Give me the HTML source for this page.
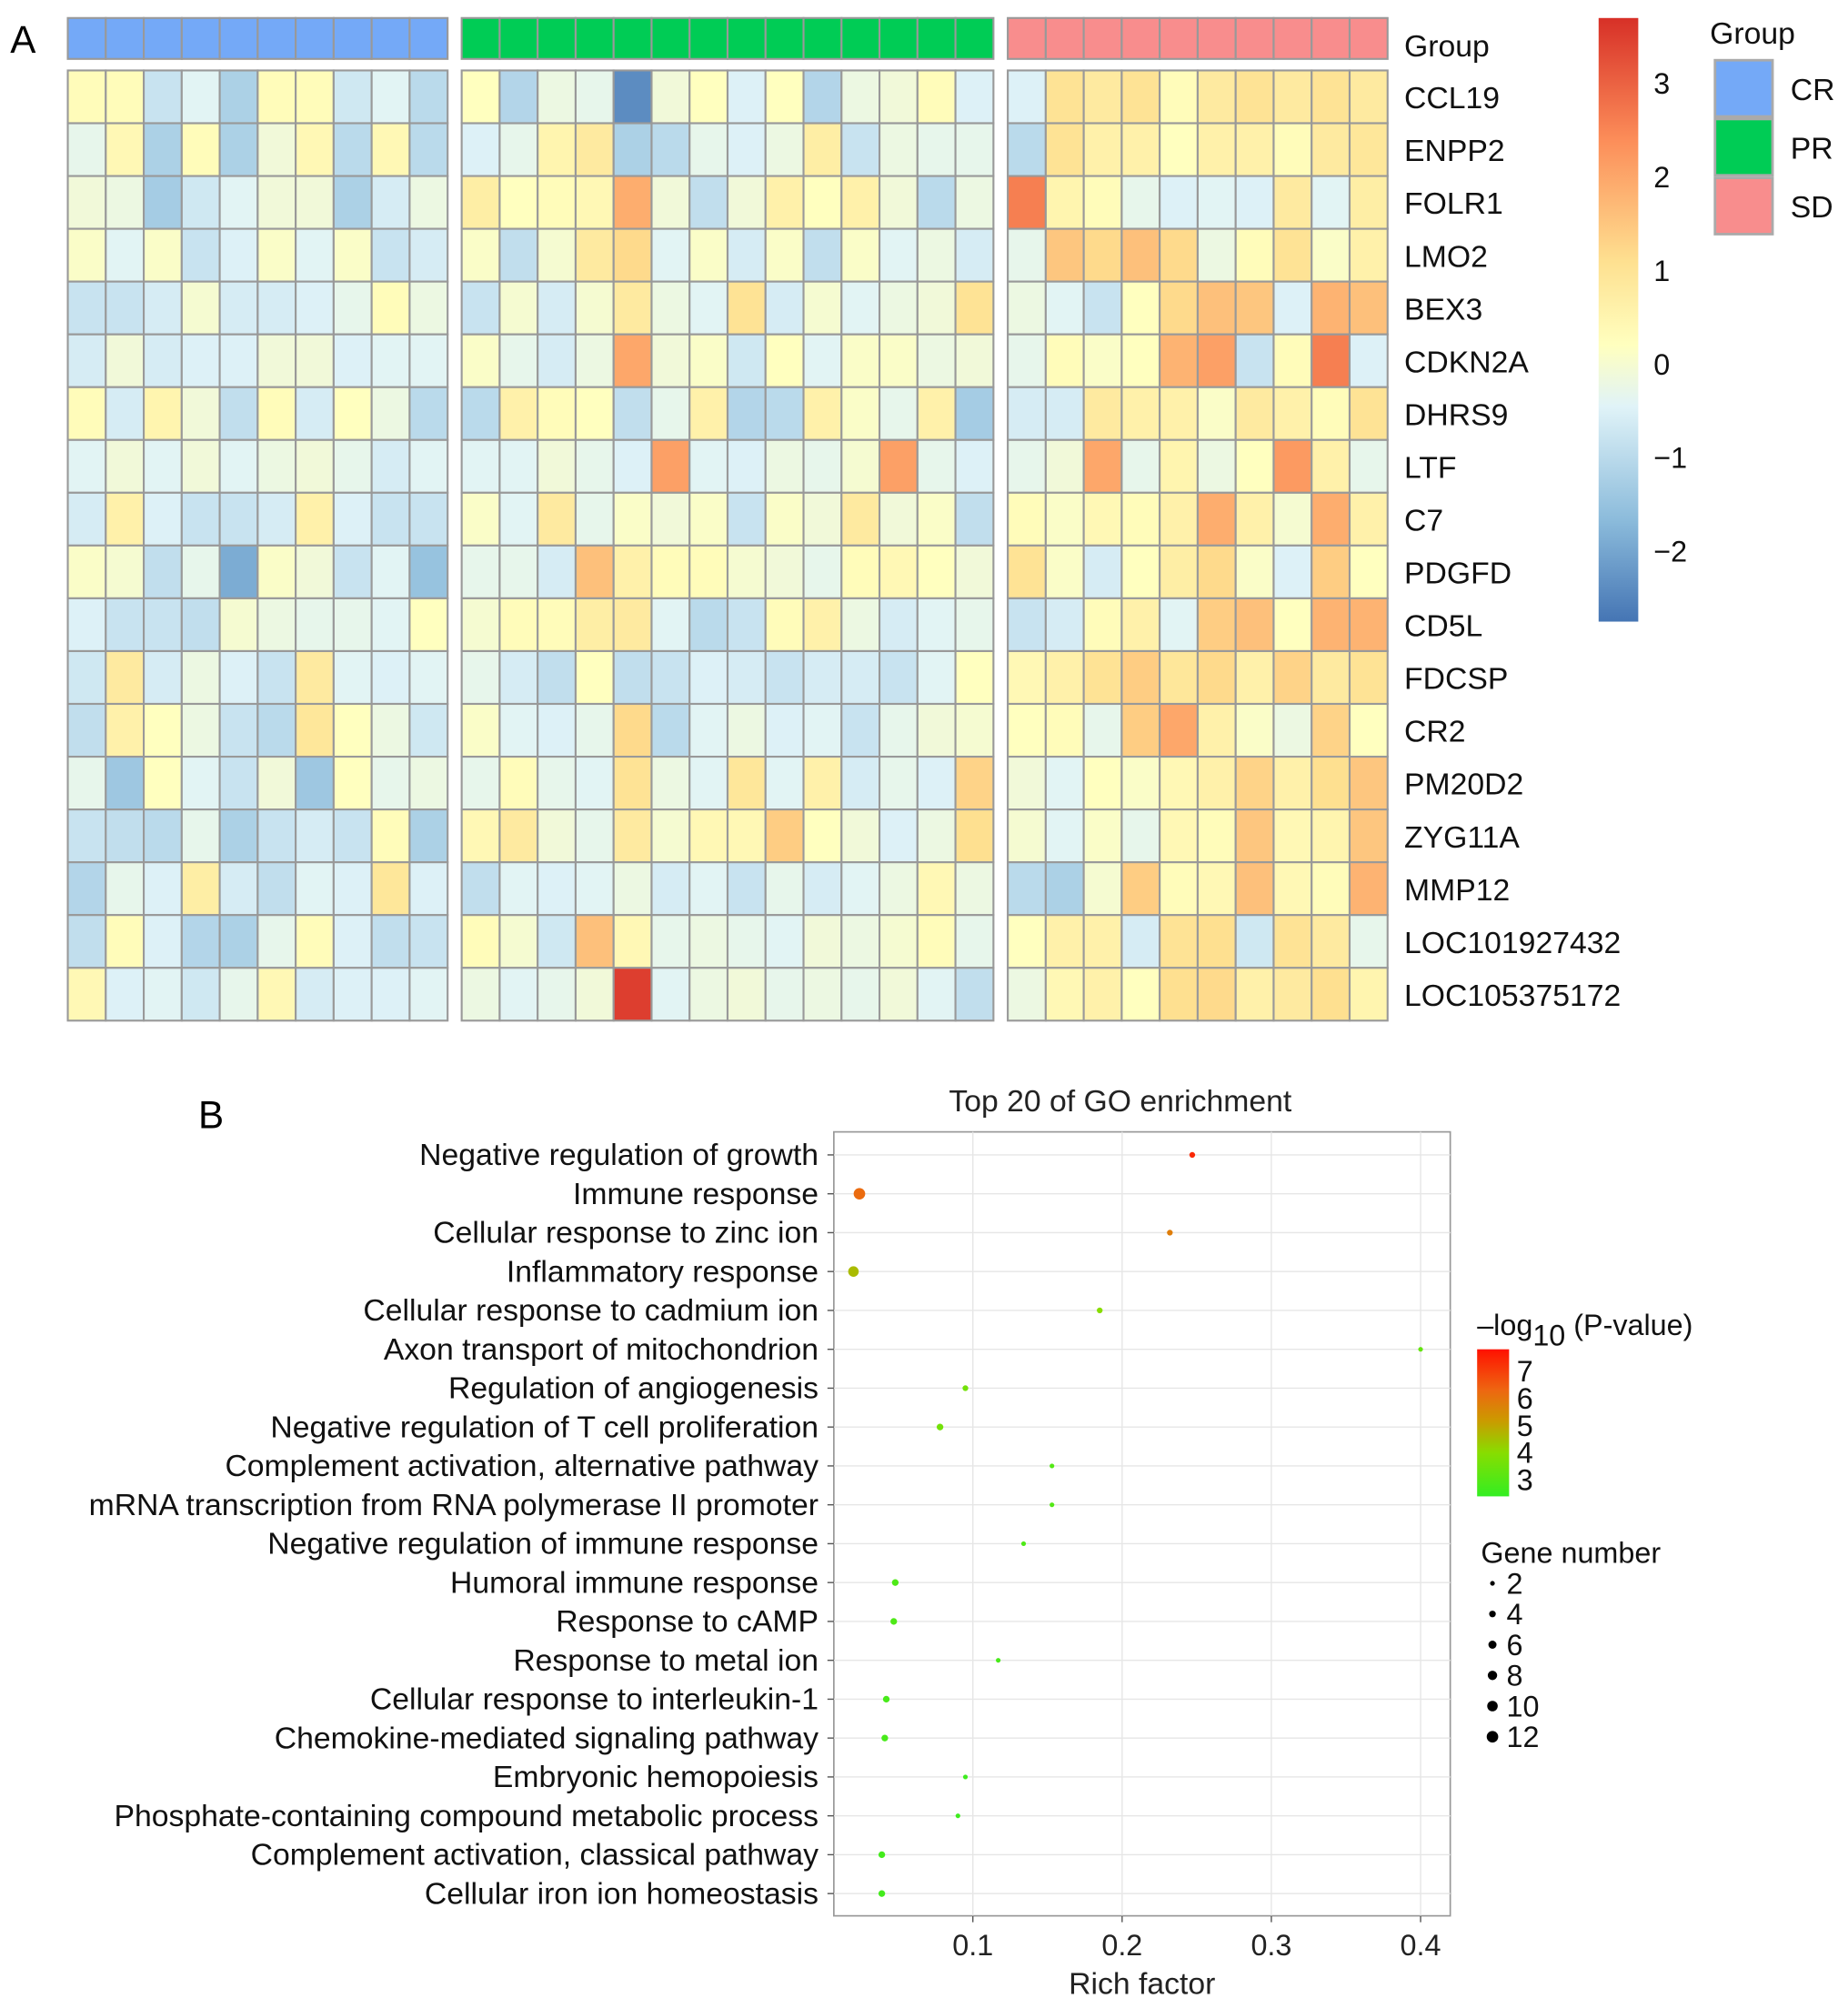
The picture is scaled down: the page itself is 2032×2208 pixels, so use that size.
<!DOCTYPE html>
<html><head><meta charset="utf-8"><style>
html,body{margin:0;padding:0;background:#fff}
svg{display:block;font-family:"Liberation Sans",Arial,sans-serif}
</style></head><body>
<svg id="fig" width="2032" height="2208" viewBox="0 0 1445 1570" xmlns="http://www.w3.org/2000/svg">
<rect width="1445" height="1570" fill="#fff"/>
<text x="8" y="41" font-size="30">A</text>
<g id="heat"></g>
<g id="hlegend"></g>
<text x="155" y="882" font-size="30">B</text>
<text x="876" y="869" font-size="24" text-anchor="middle" fill="#222">Top 20 of GO enrichment</text>
<g id="dot"></g>
<g id="dlegend"></g>
</svg>
<script>
const genes=["CCL19","ENPP2","FOLR1","LMO2","BEX3","CDKN2A","DHRS9","LTF","C7","PDGFD","CD5L","FDCSP","CR2","PM20D2","ZYG11A","MMP12","LOC101927432","LOC105375172"];
const groups=["CR","PR","SD"];
const crVals=[
[0.3,0.3,-0.8,-0.4,-1.2,0.3,0.3,-0.7,-0.4,-1.0],
[-0.3,0.4,-1.2,0.3,-1.2,-0.1,0.4,-1.0,0.4,-1.0],
[-0.1,-0.2,-1.3,-0.7,-0.4,-0.1,-0.1,-1.2,-0.6,-0.2],
[0.1,-0.4,0.1,-0.8,-0.5,0.1,-0.4,0.1,-0.8,-0.6],
[-0.8,-0.8,-0.6,0.0,-0.6,-0.6,-0.5,-0.3,0.3,-0.2],
[-0.6,-0.1,-0.6,-0.5,-0.5,-0.1,-0.1,-0.5,-0.4,-0.4],
[0.3,-0.6,0.5,-0.1,-0.9,0.3,-0.6,0.2,-0.2,-1.0],
[-0.4,-0.1,-0.4,-0.1,-0.4,-0.2,-0.1,-0.3,-0.6,-0.4],
[-0.6,0.6,-0.5,-0.8,-0.8,-0.6,0.6,-0.5,-0.8,-0.8],
[0.1,0.0,-0.9,-0.3,-1.9,0.1,-0.1,-0.8,-0.4,-1.5],
[-0.5,-0.8,-0.8,-0.9,0.0,-0.2,-0.3,-0.3,-0.4,0.2],
[-0.7,0.8,-0.6,-0.2,-0.5,-0.8,0.8,-0.4,-0.5,-0.4],
[-0.9,0.6,0.2,-0.2,-0.8,-1.0,0.9,0.2,-0.2,-0.7],
[-0.3,-1.4,0.2,-0.4,-0.8,-0.1,-1.4,0.2,-0.3,-0.2],
[-0.8,-0.9,-1.0,-0.3,-1.2,-0.8,-0.6,-0.8,0.3,-1.2],
[-1.1,-0.3,-0.5,0.7,-0.6,-0.9,-0.4,-0.5,0.9,-0.5],
[-0.9,0.3,-0.5,-1.1,-1.2,-0.3,0.3,-0.5,-0.9,-0.8],
[0.4,-0.5,-0.4,-0.7,-0.3,0.4,-0.6,-0.5,-0.5,-0.4]];
const prVals=[
[0.2,-1.1,-0.2,-0.3,-2.4,-0.1,0.2,-0.5,0.2,-1.1,-0.2,-0.1,0.3,-0.5],
[-0.5,-0.3,0.5,0.8,-1.2,-1.0,-0.3,-0.5,-0.2,0.7,-0.8,-0.2,-0.3,-0.3],
[0.7,0.2,0.3,0.4,1.9,-0.1,-0.9,-0.1,0.6,0.2,0.6,-0.1,-1.0,-0.2],
[0.1,-0.9,0.0,0.8,1.2,-0.4,0.1,-0.6,0.1,-0.9,0.1,-0.4,-0.2,-0.6],
[-0.8,0.0,-0.6,0.0,0.8,-0.2,-0.4,1.0,-0.6,0.0,-0.4,-0.2,-0.1,1.0],
[0.1,-0.3,-0.6,-0.2,2.0,-0.1,0.1,-0.7,0.2,-0.4,0.1,0.1,-0.2,-0.1],
[-1.0,0.6,0.3,0.2,-0.9,-0.3,0.6,-1.1,-1.0,0.6,0.1,-0.3,0.6,-1.3],
[-0.4,-0.4,-0.1,-0.3,-0.5,2.1,-0.4,-0.5,-0.2,-0.3,0.0,2.1,-0.3,-0.5],
[0.1,-0.4,0.8,-0.3,0.1,-0.1,0.1,-0.8,0.1,-0.1,0.8,-0.1,0.1,-0.9],
[-0.3,-0.3,-0.6,1.6,0.6,0.3,0.3,0.0,-0.1,-0.3,0.3,0.4,0.2,-0.1],
[0.0,0.3,0.3,0.7,0.8,-0.4,-1.0,-0.8,0.3,0.6,-0.2,-0.6,-0.4,-0.3],
[-0.3,-0.6,-0.9,0.2,-0.9,-0.8,-0.5,-0.6,-0.8,-0.6,-0.6,-0.8,-0.4,0.2],
[0.1,-0.4,-0.5,-0.3,1.2,-1.0,-0.4,-0.2,-0.5,-0.4,-0.8,-0.3,-0.1,0.0],
[-0.3,0.3,-0.3,-0.4,1.0,-0.2,-0.4,0.9,-0.4,0.6,-0.6,-0.3,-0.5,1.3],
[0.4,0.8,-0.1,-0.3,0.8,0.0,0.4,0.4,1.4,0.2,-0.1,-0.5,-0.2,1.1],
[-0.9,-0.4,-0.5,-0.4,-0.2,-0.6,-0.4,-0.8,-0.3,-0.6,-0.4,-0.2,0.4,-0.2],
[0.3,0.0,-0.7,1.6,0.4,-0.3,-0.2,-0.3,-0.4,-0.1,-0.2,0.0,0.3,-0.3],
[-0.2,-0.4,-0.3,-0.1,3.5,-0.4,-0.2,-0.1,-0.3,-0.2,-0.3,-0.1,-0.4,-0.9]];
const sdVals=[
[-0.5,1.0,0.8,1.0,0.3,0.8,1.0,0.8,1.0,0.8],
[-1.0,1.0,0.6,0.6,0.2,0.6,0.6,0.3,0.8,0.9],
[2.6,0.5,0.3,-0.3,-0.5,-0.4,-0.5,0.8,-0.4,0.7],
[-0.3,1.5,1.2,1.6,1.2,-0.2,0.3,1.0,0.1,0.6],
[-0.2,-0.4,-0.8,0.2,1.2,1.6,1.5,-0.5,1.8,1.6],
[-0.3,0.3,0.1,0.2,1.8,2.1,-0.8,0.3,2.6,-0.5],
[-0.6,-0.6,0.8,0.6,0.6,0.1,0.8,0.6,0.3,1.0],
[-0.3,-0.1,2.0,-0.3,0.5,-0.2,0.2,2.2,0.6,-0.3],
[0.3,0.1,0.4,0.3,0.6,1.9,0.6,0.0,1.9,0.6],
[1.0,0.1,-0.6,0.2,0.7,1.2,0.1,-0.5,1.4,0.2],
[-0.8,-0.6,0.3,0.6,-0.4,1.4,1.6,0.2,1.8,1.8],
[0.4,0.6,1.0,1.4,0.9,1.2,0.6,1.3,0.8,1.0],
[0.2,0.3,-0.3,1.4,2.0,0.6,0.1,-0.2,1.3,0.2],
[-0.1,-0.4,0.2,0.1,0.4,0.6,1.3,0.6,1.1,1.5],
[0.0,-0.4,0.1,-0.3,0.4,0.3,1.5,0.4,0.5,1.5],
[-1.0,-1.2,0.0,1.4,0.3,0.4,1.6,0.4,0.3,1.8],
[0.2,0.6,0.6,-0.6,1.0,1.1,-0.7,1.0,0.8,-0.3],
[-0.2,0.4,0.6,0.2,1.1,1.2,0.6,0.8,1.1,0.5]];
const scaleTicks=[3,2,1,0,-1,-2];

const goTerms=["Negative regulation of growth","Immune response","Cellular response to zinc ion","Inflammatory response","Cellular response to cadmium ion","Axon transport of mitochondrion","Regulation of angiogenesis","Negative regulation of T cell proliferation","Complement activation, alternative pathway","mRNA transcription from RNA polymerase II promoter","Negative regulation of immune response","Humoral immune response","Response to cAMP","Response to metal ion","Cellular response to interleukin-1","Chemokine-mediated signaling pathway","Embryonic hemopoiesis","Phosphate-containing compound metabolic process","Complement activation, classical pathway","Cellular iron ion homeostasis"];
const richFactor=[0.247,0.024,0.232,0.020,0.185,0.400,0.095,0.078,0.153,0.153,0.134,0.048,0.047,0.117,0.042,0.041,0.095,0.090,0.039,0.039];
const logP=[7.4,6.2,5.8,4.6,4.0,3.3,3.6,3.6,3.0,3.0,2.9,2.9,2.9,2.8,2.8,2.8,2.6,2.6,2.7,2.7];
const geneCount=[3,12,3,10,3,2,3,4,2,2,2,4,4,2,4,4,2,2,4,4];
const xTicks=[0.1,0.2,0.3,0.4];
const pTicks=[7,6,5,4,3];
const sizeTicks=[2,4,6,8,10,12];

const NS="http://www.w3.org/2000/svg";
function mk(tag,attrs,parent,txt){const e=document.createElementNS(NS,tag);for(const k in attrs)e.setAttribute(k,attrs[k]);if(txt!==undefined)e.textContent=txt;parent.appendChild(e);return e;}
function hex(c){return [parseInt(c.slice(1,3),16),parseInt(c.slice(3,5),16),parseInt(c.slice(5,7),16)];}
function ramp(stops,v){if(v<=stops[0][0])return stops[0][1];for(let i=1;i<stops.length;i++){if(v<=stops[i][0]){const t=(v-stops[i-1][0])/(stops[i][0]-stops[i-1][0]);const a=hex(stops[i-1][1]),b=hex(stops[i][1]);return "rgb("+a.map((x,j)=>Math.round(x+(b[j]-x)*t)).join(",")+")";}}return stops[stops.length-1][1];}
const hmStops=[[-2.75,"#4575b4"],[-1.67,"#8bbbdb"],[-0.45,"#e0f3f8"],[0.2,"#ffffbf"],[1.1,"#fee090"],[2.4,"#fc8d59"],[3.7,"#d73027"]];
const hmColor=v=>ramp(hmStops,v);

// heatmap
const heatG=document.getElementById('heat');
const hmTop=55,rh=(798-55)/18,cw=29.7;
const blocks=[{x:53,vals:crVals,col:"#74a9f7"},{x:361,vals:prVals,col:"#00cc55"},{x:788,vals:sdVals,col:"#f88d8d"}];
blocks.forEach((b,bi)=>{
  const n=b.vals[0].length;
  for(let c=0;c<n;c++){
    const a=mk('rect',{x:b.x+c*cw,y:14,width:cw,height:32,fill:b.col,stroke:"#999","stroke-width":1.5},heatG);
    
    
  }
  b.vals.forEach((row,r)=>{
    row.forEach((v,c)=>{
      const e=mk('rect',{x:b.x+c*cw,y:hmTop+r*rh,width:cw,height:rh,fill:hmColor(v),stroke:"#999","stroke-width":1.5},heatG);
      
      
    });
  });
});
const gl=mk('text',{x:1098,y:44,"font-size":24,fill:"#111"},heatG,"Group");


genes.forEach((g,r)=>{
  const t=mk('text',{x:1098,y:hmTop+r*rh+rh/2+9,"font-size":24,fill:"#111"},heatG,g);
  
  
});

// heatmap legend
const hl=document.getElementById('hlegend');
const cbTop=14,cbBot=486,vTop=3.7,vBot=-2.75;
const cbY=v=>cbTop+(vTop-v)/(vTop-vBot)*(cbBot-cbTop);
const defsEl=mk('defs',{},hl);
const lg=mk('linearGradient',{id:"hmg",x1:0,y1:0,x2:0,y2:1},defsEl);
hmStops.slice().reverse().forEach(s=>mk('stop',{offset:(vTop-s[0])/(vTop-vBot),"stop-color":s[1]},lg));
const cbar=mk('rect',{x:1250,y:cbTop,width:31,height:cbBot-cbTop,fill:"url(#hmg)"},hl);


scaleTicks.forEach(v=>{
  const t=mk('text',{x:1293,y:cbY(v)+8,"font-size":23,fill:"#111"},hl,v<0?"\u2212"+(-v):String(v));
  
  
});
const gtitle=mk('text',{x:1337,y:34,"font-size":24,fill:"#111"},hl,"Group");


[["CR","#74a9f7"],["PR","#00cc55"],["SD","#f88d8d"]].forEach((g,i)=>{
  const r=mk('rect',{x:1341,y:47+i*46,width:45,height:44,fill:g[1],stroke:"#aaa","stroke-width":2},hl);
  
  
  const t=mk('text',{x:1400,y:78+i*46,"font-size":24,fill:"#111"},hl,g[0]);
  
  
});

// dot plot
const dotG=document.getElementById('dot');
const px0=652,px1=1134,py0=885,py1=1498;
const xS=v=>644+v*1167;
const yS=i=>903+i*30.4;
const pStops=[[2.4,"#33ee22"],[4.0,"#88dd00"],[5.2,"#cc9900"],[6.3,"#ee6611"],[7.8,"#ff1100"]];
const pCol=v=>ramp(pStops,v);
const rS=n=>1.3*Math.sqrt(n);
const pbox=mk('rect',{x:px0,y:py0,width:px1-px0,height:py1-py0,fill:"#fff",stroke:"#999","stroke-width":1.2},dotG);


xTicks.forEach(v=>{
  const l=mk('line',{x1:xS(v),x2:xS(v),y1:py0,y2:py1,stroke:"#e6e6e6","stroke-width":1},dotG);
  
  
  const tk=mk('line',{x1:xS(v),x2:xS(v),y1:py1,y2:py1+5,stroke:"#555","stroke-width":1},dotG);
  
  
  const t=mk('text',{x:xS(v),y:1529,"font-size":23,"text-anchor":"middle",fill:"#222"},dotG,String(v));
  
  
});
goTerms.forEach((g,i)=>{
  const l=mk('line',{x1:px0,x2:px1,y1:yS(i),y2:yS(i),stroke:"#e6e6e6","stroke-width":1},dotG);
  
  
  const tk=mk('line',{x1:px0-5,x2:px0,y1:yS(i),y2:yS(i),stroke:"#555","stroke-width":1},dotG);
  
  
  const t=mk('text',{x:640,y:yS(i)+8,"font-size":24,"text-anchor":"end",fill:"#111"},dotG,g);
  
  
});
goTerms.forEach((g,i)=>{
  const c=mk('circle',{cx:xS(richFactor[i]),cy:yS(i),r:rS(geneCount[i]),fill:pCol(logP[i])},dotG);
  
  
});
const xtitle=mk('text',{x:893,y:1559,"font-size":24,"text-anchor":"middle",fill:"#222"},dotG,"Rich factor");



// dot legend
const dl=document.getElementById('dlegend');
const ptitle=mk('text',{x:1155,y:1044,"font-size":23,fill:"#111"},dl);


mk('tspan',{},ptitle,"\u2013log");
mk('tspan',{dy:8},ptitle,"10");
mk('tspan',{dy:-8},ptitle," (P-value)");
const pTop=1055,pBot=1170,pvTop=7.8,pvBot=2.4;
const pY=v=>pTop+(pvTop-v)/(pvTop-pvBot)*(pBot-pTop);
const lg2=mk('linearGradient',{id:"pg",x1:0,y1:0,x2:0,y2:1},defsEl);
pStops.slice().reverse().forEach(s=>mk('stop',{offset:(pvTop-s[0])/(pvTop-pvBot),"stop-color":s[1]},lg2));
const pcbar=mk('rect',{x:1155,y:pTop,width:25,height:pBot-pTop,fill:"url(#pg)"},dl);


pTicks.forEach(v=>{
  const t=mk('text',{x:1186,y:pY(v)+8,"font-size":23,fill:"#111"},dl,String(v));
  
  
});
const stitle=mk('text',{x:1158,y:1222,"font-size":23,fill:"#111"},dl,"Gene number");


sizeTicks.forEach((n,i)=>{
  const c=mk('circle',{cx:1167,cy:1238+i*24,r:rS(n),fill:"#000"},dl);
  
  
  const t=mk('text',{x:1178,y:1246+i*24,"font-size":23,fill:"#111"},dl,String(n));
  
  
});
</script>
</body></html>
